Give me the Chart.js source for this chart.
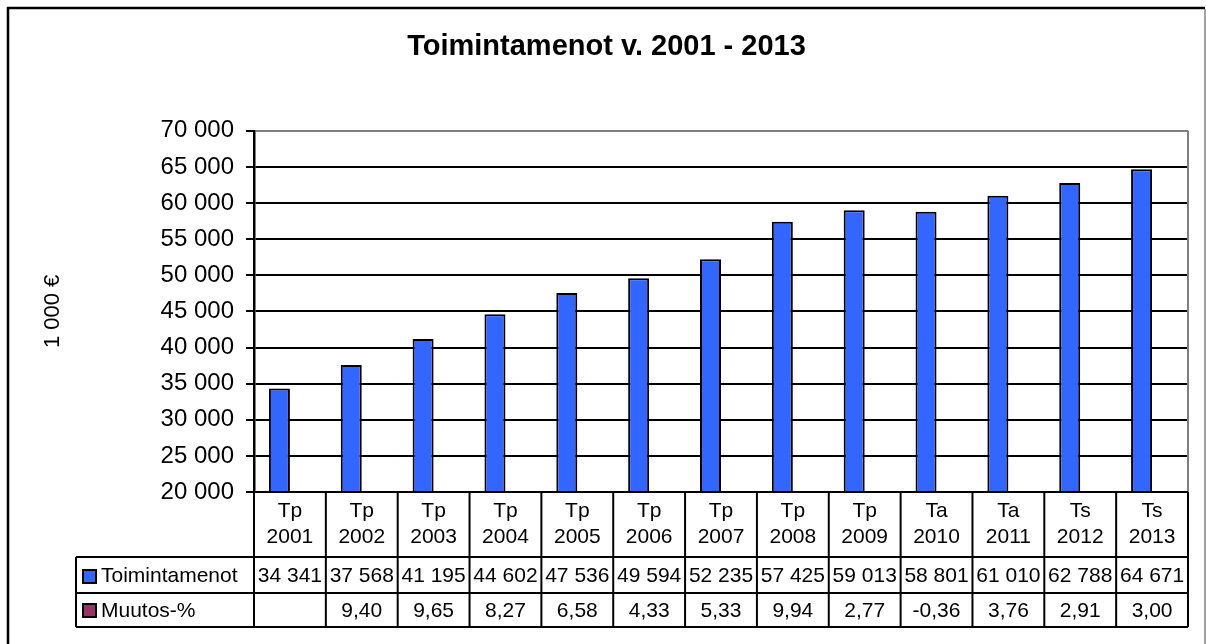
<!DOCTYPE html>
<html>
<head>
<meta charset="utf-8">
<script src="https://cdn.jsdelivr.net/npm/chart.js@4/dist/chart.umd.min.js"></script>
<style>
  body { margin: 0; background: #fff; }
  canvas { display: block; }
</style>
</head>
<body>
<canvas id="chart" width="1206" height="644"></canvas>
<script>
var prefixes = ['Tp', 'Tp', 'Tp', 'Tp', 'Tp', 'Tp', 'Tp', 'Tp', 'Tp', 'Ta', 'Ta', 'Ts', 'Ts'];
var years = ['2001', '2002', '2003', '2004', '2005', '2006', '2007', '2008', '2009', '2010', '2011', '2012', '2013'];
var toimintamenot = [34341, 37568, 41195, 44602, 47536, 49594, 52235, 57425, 59013, 58801, 61010, 62788, 64671];
var muutos = [null, 9.40, 9.65, 8.27, 6.58, 4.33, 5.33, 9.94, 2.77, -0.36, 3.76, 2.91, 3.00];
var yTicks = [20000, 25000, 30000, 35000, 40000, 45000, 50000, 55000, 60000, 65000, 70000];

var FONT = 'Liberation Sans, Arial, sans-serif';
var BLUE = '#3366ff';
var PURPLE = '#993366';

function spaced(v) {
    return String(v).replace(/\B(?=(\d{3})+(?!\d))/g, ' ');
}

function pct(v) {
    if (v === null) return '';
    return v.toFixed(2).replace('.', ',');
}

var labels = [];
for (var i = 0; i < years.length; i++) {
    labels.push([prefixes[i], years[i]]);
}

// data table + frame under the plot, drawn from the x scale positions
var tablePlugin = {
    id: 'dataTable',
    afterDraw: function (chart) {
        var ctx = chart.ctx;
        var area = chart.chartArea;
        var xs = chart.scales.x;
        var half = (area.right - area.left) / years.length / 2;
        var top = area.bottom;
        var r1 = top + 65, r2 = r1 + 36, r3 = r2 + 34;
        var leftCol = 76;

        ctx.save();

        // plot area right border
        ctx.strokeStyle = '#808080';
        ctx.lineWidth = 2;
        ctx.beginPath();
        ctx.moveTo(area.right, area.top);
        ctx.lineTo(area.right, area.bottom);
        ctx.stroke();

        // outer frame
        ctx.strokeStyle = '#000';
        ctx.lineWidth = 2.5;
        ctx.beginPath();
        ctx.moveTo(8, 644);
        ctx.lineTo(8, 8);
        ctx.lineTo(1205, 8);
        ctx.stroke();
        ctx.strokeStyle = '#a0a0a0';
        ctx.lineWidth = 2;
        ctx.beginPath();
        ctx.moveTo(1205, 9);
        ctx.lineTo(1205, 644);
        ctx.stroke();

        // table grid
        ctx.strokeStyle = '#000';
        ctx.lineWidth = 2;
        ctx.beginPath();
        ctx.moveTo(area.left, top); ctx.lineTo(area.right, top);
        ctx.moveTo(leftCol, r1); ctx.lineTo(area.right, r1);
        ctx.moveTo(leftCol, r2); ctx.lineTo(area.right, r2);
        ctx.moveTo(leftCol, r3); ctx.lineTo(area.right, r3);
        ctx.moveTo(leftCol, r1); ctx.lineTo(leftCol, r3);
        for (var i = 0; i < years.length; i++) {
            var x0 = xs.getPixelForValue(i) - half;
            ctx.moveTo(x0, top); ctx.lineTo(x0, r3);
        }
        ctx.moveTo(area.right, top); ctx.lineTo(area.right, r3);
        ctx.stroke();

        // legend keys
        ctx.lineWidth = 2;
        ctx.fillStyle = BLUE;
        ctx.fillRect(83, r1 + 13, 13, 13);
        ctx.strokeRect(83, r1 + 13, 13, 13);
        ctx.fillStyle = PURPLE;
        ctx.fillRect(83, r2 + 11, 13, 13);
        ctx.strokeRect(83, r2 + 11, 13, 13);

        ctx.fillStyle = '#000';
        ctx.font = '21px ' + FONT;
        ctx.textBaseline = 'middle';
        ctx.textAlign = 'left';
        ctx.fillText('Toimintamenot', 101, (r1 + r2) / 2 + 1);
        ctx.fillText('Muutos-%', 101, (r2 + r3) / 2 + 1);

        ctx.textAlign = 'center';
        for (var j = 0; j < years.length; j++) {
            var cx = xs.getPixelForValue(j);
            ctx.fillText(spaced(toimintamenot[j]), cx, (r1 + r2) / 2 + 1);
            ctx.fillText(pct(muutos[j]), cx, (r2 + r3) / 2 + 1);
        }
        ctx.restore();
    }
};

new Chart(document.getElementById('chart'), {
    type: 'bar',
    data: {
        labels: labels,
        datasets: [{
            label: 'Toimintamenot',
            data: toimintamenot,
            backgroundColor: BLUE,
            borderColor: '#000',
            borderWidth: 2,
            borderSkipped: false,
            clip: 0
        }, {
            label: 'Muutos-%',
            data: muutos,
            backgroundColor: PURPLE,
            borderColor: '#000',
            borderWidth: 2,
            clip: 0
        }]
    },
    options: {
        responsive: false,
        animation: false,
        devicePixelRatio: 1,
        categoryPercentage: 0.585,
        barPercentage: 1,
        layout: {
            padding: { left: 25, right: 18, top: 0, bottom: 0 }
        },
        plugins: {
            legend: { display: false },
            tooltip: { enabled: false },
            title: {
                display: true,
                text: 'Toimintamenot v. 2001 - 2013',
                color: '#000',
                font: { family: FONT, size: 29, weight: 'bold', lineHeight: 1.2 },
                padding: { top: 30, bottom: 66 }
            }
        },
        scales: {
            x: {
                grid: { display: false, drawTicks: false },
                border: { display: true, color: '#000', width: 2 },
                ticks: {
                    color: '#000',
                    font: { family: FONT, size: 21, lineHeight: 1.2 },
                    padding: 7,
                    maxRotation: 0,
                    autoSkip: false
                },
                afterFit: function (scale) {
                    scale.height = 152;
                }
            },
            y: {
                min: 20000,
                max: 70000,
                afterBuildTicks: function (scale) {
                    scale.ticks = yTicks.map(function (v) { return { value: v }; });
                },
                grid: {
                    color: function (c) {
                        return c.tick && c.tick.value === 70000 ? '#808080' : '#000';
                    },
                    lineWidth: 2,
                    tickColor: '#000',
                    tickLength: 8
                },
                border: { display: true, color: '#000', width: 2.5 },
                ticks: {
                    color: '#000',
                    font: { family: FONT, size: 24 },
                    padding: 12,
                    callback: function (v) { return spaced(v); }
                },
                title: {
                    display: true,
                    text: '1 000 €',
                    color: '#000',
                    font: { family: FONT, size: 22 },
                    padding: { top: 15, bottom: 0 }
                },
                afterFit: function (scale) {
                    scale.width = 229;
                }
            }
        }
    },
    plugins: [tablePlugin]
});
</script>
</body>
</html>
